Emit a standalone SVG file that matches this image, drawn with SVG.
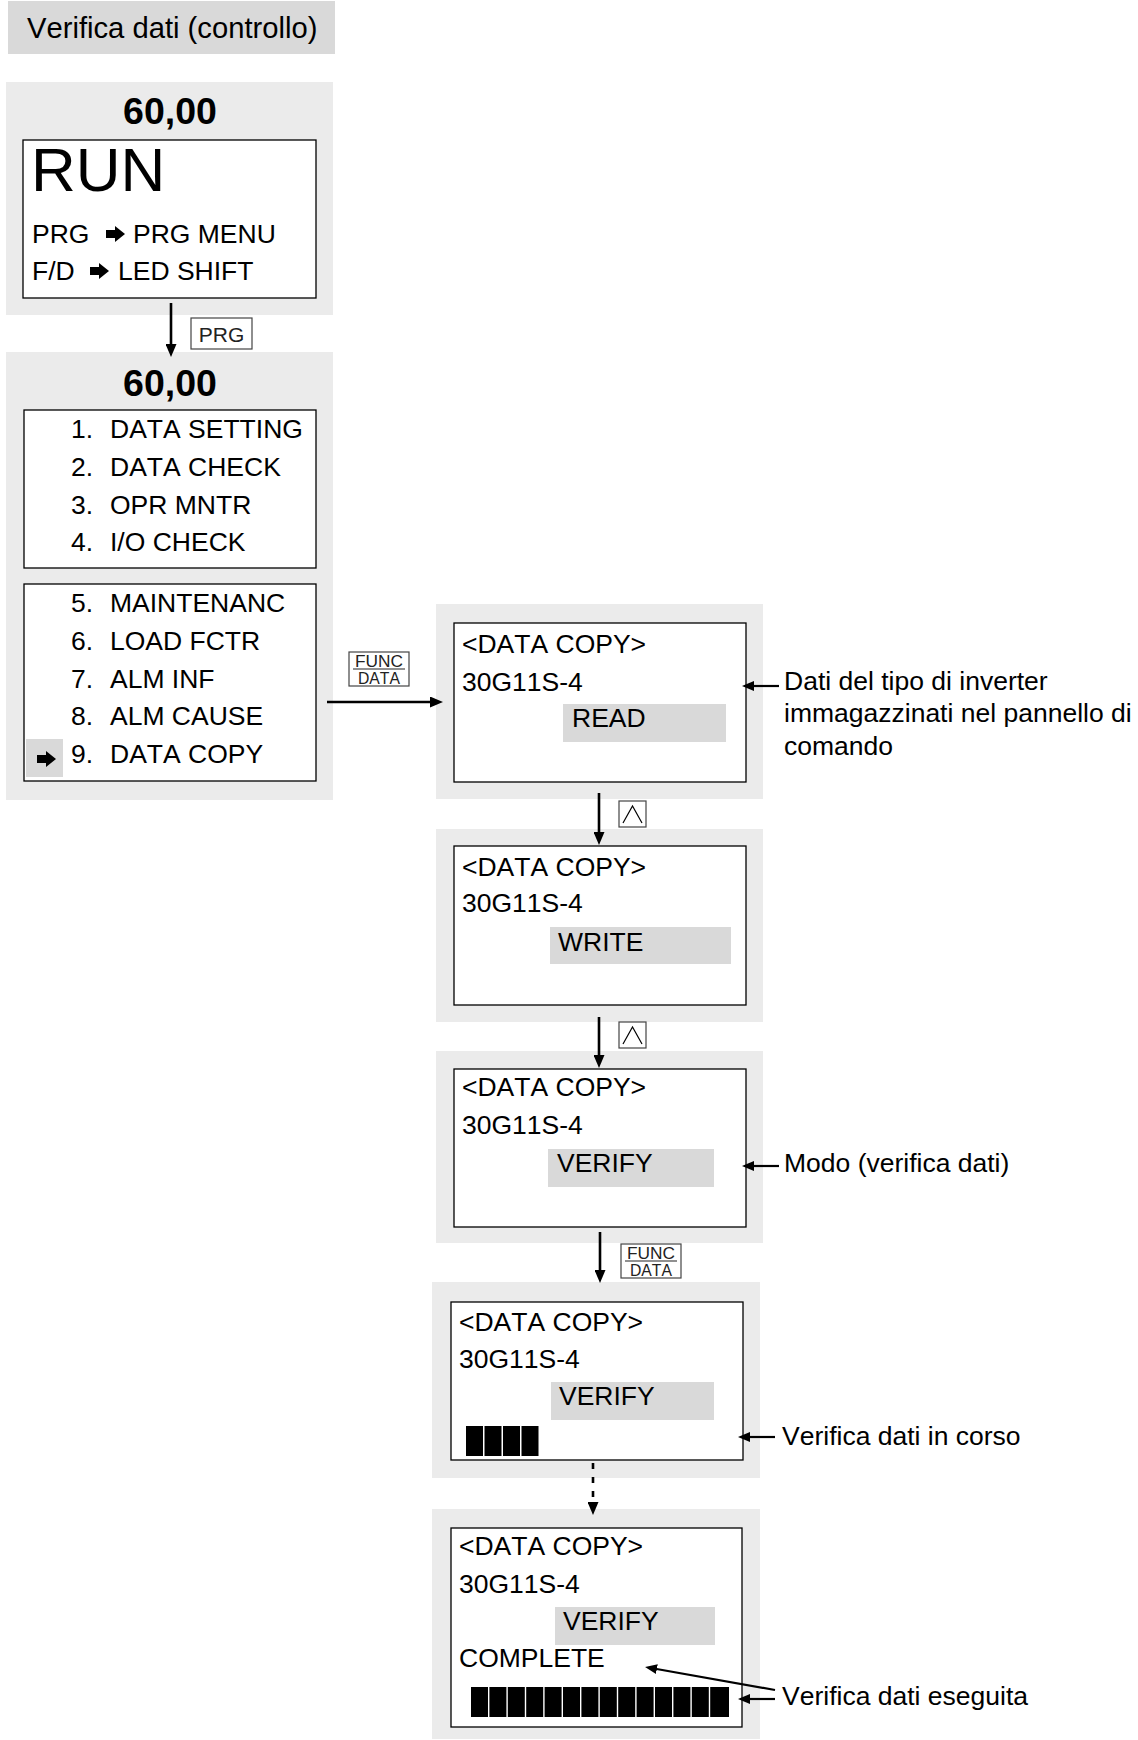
<svg xmlns="http://www.w3.org/2000/svg" width="1138" height="1740" viewBox="0 0 1138 1740">
  <style>
    text { font-family: "Liberation Sans", Arial, sans-serif; fill: #000; font-kerning: none; }
    .t { font-size: 26.5px; }
    .big { font-size: 37.5px; font-weight: bold; }
    .run { font-size: 62px; }
    .title { font-size: 29.2px; }
    .key { font-size: 16.5px; fill: #222; }
    .keyp { font-size: 21px; fill: #222; }
    .panel { fill: #ebebeb; }
    .hl { fill: #d9d9d9; }
    .screen { fill: #fff; stroke: #000; stroke-width: 1.3; }
    .keybox { fill: #fff; stroke: #444; stroke-width: 1.2; }
    .conn { stroke: #000; stroke-width: 2.6; fill: none; }
    .note { stroke: #000; stroke-width: 2.2; fill: none; }
    .blk { fill: #000; }
  </style>
  <defs>
    <marker id="ah" viewBox="0 0 13 11" refX="7" refY="5.5" markerWidth="13" markerHeight="11" markerUnits="userSpaceOnUse" orient="auto">
      <path d="M0,0 L13,5.5 L0,11 z" fill="#000"/>
    </marker>
    <marker id="ahs" viewBox="0 0 12 10" refX="6" refY="5" markerWidth="12" markerHeight="10" markerUnits="userSpaceOnUse" orient="auto">
      <path d="M0,0 L12,5 L0,10 z" fill="#000"/>
    </marker>
    <!-- small solid pointer used on the display screens -->
    <polygon id="ptr" points="-9,-4 0,-4 0,-8 10,0 0,8 0,4 -9,4" fill="#000"/>
    <!-- up-key icon -->
    <g id="upkey">
      <rect x="0" y="0" width="27" height="26" class="keybox"/>
      <polyline points="4,22 13.5,5 23,22" fill="none" stroke="#000" stroke-width="1.2"/>
    </g>
    <!-- FUNC/DATA key -->
    <g id="funckey">
      <rect x="0" y="0" width="60" height="34" class="keybox"/>
      <text x="6" y="15" class="key" textLength="48" lengthAdjust="spacingAndGlyphs">FUNC</text>
      <line x1="4" y1="17" x2="56" y2="17" stroke="#222" stroke-width="1.2"/>
      <text x="9" y="31.5" class="key" textLength="42" lengthAdjust="spacingAndGlyphs">DATA</text>
    </g>
  </defs>

  <!-- heading -->
  <g id="title">
    <rect x="8" y="1" width="327" height="53" fill="#d9d9d9"/>
    <text x="27" y="38" class="title">Verifica dati (controllo)</text>
  </g>

  <!-- run screen -->
  <g id="screen-run">
    <rect x="6" y="82" width="327" height="233" class="panel"/>
    <text x="170" y="124" text-anchor="middle" class="big">60,00</text>
    <rect x="23" y="140" width="293" height="158" class="screen"/>
    <text x="31" y="191" class="run">RUN</text>
    <text x="32" y="243" class="t">PRG</text>
    <use href="#ptr" x="115" y="234"/>
    <text x="133" y="243" class="t">PRG MENU</text>
    <text x="32" y="280" class="t">F/D</text>
    <use href="#ptr" x="99" y="271"/>
    <text x="118" y="280" class="t">LED SHIFT</text>
  </g>

  <!-- program menu -->
  <g id="screen-menu">
    <rect x="6" y="352" width="327" height="448" class="panel"/>
    <text x="170" y="396" text-anchor="middle" class="big">60,00</text>
    <rect x="24" y="410" width="292" height="158" class="screen"/>
    <text x="71" y="438" class="t">1.</text><text x="110" y="438" class="t">DATA SETTING</text>
    <text x="71" y="476" class="t">2.</text><text x="110" y="476" class="t">DATA CHECK</text>
    <text x="71" y="514" class="t">3.</text><text x="110" y="514" class="t">OPR MNTR</text>
    <text x="71" y="551" class="t">4.</text><text x="110" y="551" class="t">I/O CHECK</text>
    <rect x="24" y="584" width="292" height="197" class="screen"/>
    <text x="71" y="612" class="t">5.</text><text x="110" y="612" class="t">MAINTENANC</text>
    <text x="71" y="650" class="t">6.</text><text x="110" y="650" class="t">LOAD FCTR</text>
    <text x="71" y="688" class="t">7.</text><text x="110" y="688" class="t">ALM INF</text>
    <text x="71" y="725" class="t">8.</text><text x="110" y="725" class="t">ALM CAUSE</text>
    <rect x="26" y="739" width="37" height="38" class="hl"/>
    <use href="#ptr" x="46" y="759"/>
    <text x="71" y="763" class="t">9.</text><text x="110" y="763" class="t">DATA COPY</text>
  </g>

  <!-- data copy: READ -->
  <g id="screen-read">
    <rect x="436" y="604" width="327" height="195" class="panel"/>
    <rect x="454" y="623" width="292" height="159" class="screen"/>
    <text x="462" y="653" class="t">&lt;DATA COPY&gt;</text>
    <text x="462" y="691" class="t">30G11S-4</text>
    <rect x="563" y="704" width="163" height="38" class="hl"/>
    <text x="572" y="727" class="t">READ</text>
  </g>

  <!-- data copy: WRITE -->
  <g id="screen-write">
    <rect x="436" y="829" width="327" height="193" class="panel"/>
    <rect x="454" y="846" width="292" height="159" class="screen"/>
    <text x="462" y="876" class="t">&lt;DATA COPY&gt;</text>
    <text x="462" y="912" class="t">30G11S-4</text>
    <rect x="550" y="927" width="181" height="37" class="hl"/>
    <text x="558" y="951" class="t">WRITE</text>
  </g>

  <!-- data copy: VERIFY -->
  <g id="screen-verify">
    <rect x="436" y="1051" width="327" height="192" class="panel"/>
    <rect x="454" y="1069" width="292" height="158" class="screen"/>
    <text x="462" y="1096" class="t">&lt;DATA COPY&gt;</text>
    <text x="462" y="1134" class="t">30G11S-4</text>
    <rect x="548" y="1149" width="166" height="38" class="hl"/>
    <text x="557" y="1172" class="t">VERIFY</text>
  </g>

  <!-- verify in progress -->
  <g id="screen-progress">
    <rect x="432" y="1282" width="328" height="196" class="panel"/>
    <rect x="451" y="1302" width="292" height="158" class="screen"/>
    <text x="459" y="1331" class="t">&lt;DATA COPY&gt;</text>
    <text x="459" y="1368" class="t">30G11S-4</text>
    <rect x="551" y="1382" width="163" height="38" class="hl"/>
    <text x="559" y="1405" class="t">VERIFY</text>
    <g class="blk">
      <rect x="466" y="1426" width="17" height="30"/>
      <rect x="484.5" y="1426" width="17" height="30"/>
      <rect x="503" y="1426" width="17" height="30"/>
      <rect x="521.5" y="1426" width="17" height="30"/>
    </g>
  </g>

  <!-- verify complete -->
  <g id="screen-complete">
    <rect x="432" y="1509" width="328" height="230" class="panel"/>
    <rect x="451" y="1528" width="291" height="199" class="screen"/>
    <text x="459" y="1555" class="t">&lt;DATA COPY&gt;</text>
    <text x="459" y="1593" class="t">30G11S-4</text>
    <rect x="555" y="1607" width="160" height="38" class="hl"/>
    <text x="563" y="1630" class="t">VERIFY</text>
    <text x="459" y="1667" class="t">COMPLETE</text>
    <g class="blk">
      <rect x="471" y="1687" width="17" height="30"/>
      <rect x="489.4" y="1687" width="17" height="30"/>
      <rect x="507.8" y="1687" width="17" height="30"/>
      <rect x="526.2" y="1687" width="17" height="30"/>
      <rect x="544.6" y="1687" width="17" height="30"/>
      <rect x="563" y="1687" width="17" height="30"/>
      <rect x="581.4" y="1687" width="17" height="30"/>
      <rect x="599.8" y="1687" width="17" height="30"/>
      <rect x="618.2" y="1687" width="17" height="30"/>
      <rect x="636.6" y="1687" width="17" height="30"/>
      <rect x="655" y="1687" width="17" height="30"/>
      <rect x="673.4" y="1687" width="17" height="30"/>
      <rect x="691.8" y="1687" width="17" height="30"/>
      <rect x="710.2" y="1687" width="18.8" height="30"/>
    </g>
  </g>

  <!-- notes beside the screens -->
  <g id="note-type">
    <text x="784" y="690" class="t">Dati del tipo di inverter</text>
    <text x="784" y="722" class="t">immagazzinati nel pannello di</text>
    <text x="784" y="755" class="t">comando</text>
  </g>
  <g id="note-mode">
    <text x="784" y="1172" class="t">Modo (verifica dati)</text>
  </g>
  <g id="note-progress">
    <text x="782" y="1445" class="t">Verifica dati in corso</text>
  </g>
  <g id="note-done">
    <text x="782" y="1705" class="t">Verifica dati eseguita</text>
  </g>

  <!-- key labels on the transitions -->
  <g id="keys">
    <rect x="191" y="318" width="61" height="31" class="keybox"/>
    <text x="221.5" y="341.5" text-anchor="middle" class="keyp">PRG</text>
    <use href="#funckey" x="349" y="652"/>
    <use href="#upkey" x="619" y="801"/>
    <use href="#upkey" x="619" y="1022"/>
    <use href="#funckey" x="621" y="1244"/>
  </g>

  <!-- connectors -->
  <g id="connectors">
    <line x1="171" y1="303" x2="171" y2="351" class="conn" marker-end="url(#ah)"/>
    <line x1="327" y1="702" x2="437" y2="702" class="conn" marker-end="url(#ah)"/>
    <line x1="599" y1="793" x2="599" y2="839" class="conn" marker-end="url(#ah)"/>
    <line x1="599" y1="1017" x2="599" y2="1062" class="conn" marker-end="url(#ah)"/>
    <line x1="600" y1="1232" x2="600" y2="1277" class="conn" marker-end="url(#ah)"/>
    <line x1="593" y1="1463" x2="593" y2="1509" class="conn" stroke-dasharray="6 8" stroke-width="3" marker-end="url(#ah)"/>
    <line x1="779" y1="686" x2="748" y2="686" class="note" marker-end="url(#ahs)"/>
    <line x1="779" y1="1166" x2="748" y2="1166" class="note" marker-end="url(#ahs)"/>
    <line x1="775" y1="1437" x2="744" y2="1437" class="note" marker-end="url(#ahs)"/>
    <line x1="775" y1="1699" x2="744" y2="1699" class="note" marker-end="url(#ahs)"/>
    <line x1="775" y1="1690" x2="651" y2="1668" class="note" marker-end="url(#ahs)"/>
  </g>
</svg>
